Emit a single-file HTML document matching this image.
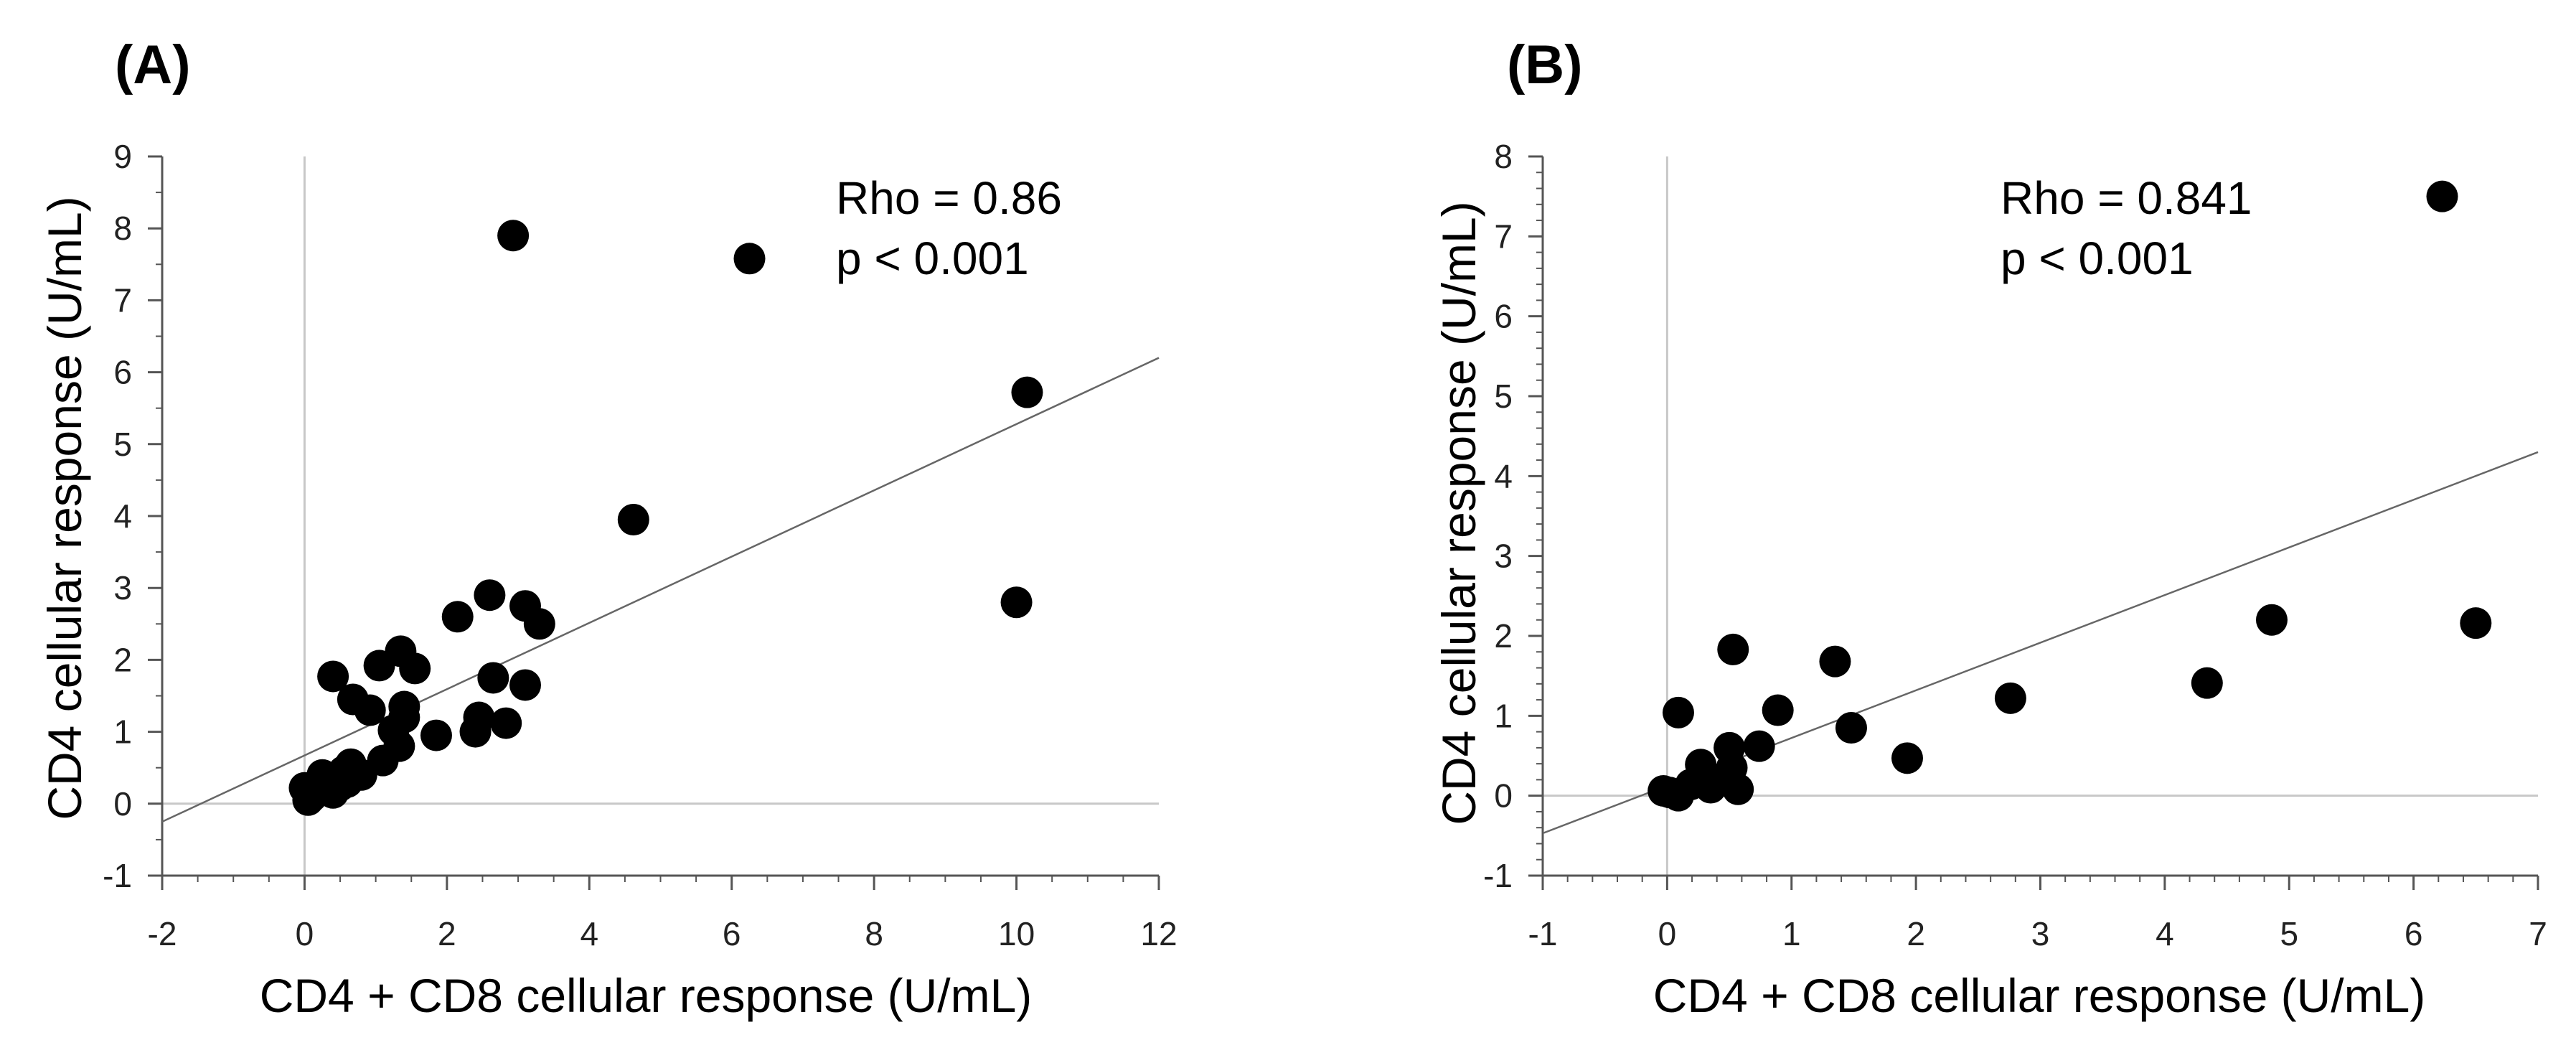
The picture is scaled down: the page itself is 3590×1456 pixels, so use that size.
<!DOCTYPE html>
<html><head><meta charset="utf-8"><style>
html,body{margin:0;padding:0;background:#fff;}
svg text{font-family:"Liberation Sans",Arial,sans-serif;}
</style></head><body>
<svg id="fig" width="3590" height="1451" viewBox="0 0 3590 1451" xmlns="http://www.w3.org/2000/svg">
<rect width="3590" height="1451" fill="#fff"/>
<g id="pA"></g>
<g id="pB"></g>
</svg>
<script>
// Panel A data
const aX = [2.93,6.25,10.15,4.62,10.0,2.6,2.15,3.1,3.3,1.35,1.55,1.05,0.4,2.65,3.1,0.68,0.92,1.4,1.4,1.25,1.85,2.4,2.45,2.83,1.33,1.1,0.65,0.55,0.8,0.35,0.25,0.6,0.15,0,0.05,0.1,0.4,0.3,0.5];
const aY = [7.9,7.58,5.72,3.95,2.8,2.9,2.6,2.75,2.5,2.12,1.88,1.92,1.77,1.75,1.65,1.45,1.3,1.35,1.2,1.02,0.95,1.0,1.2,1.12,0.8,0.6,0.55,0.45,0.4,0.35,0.4,0.3,0.25,0.22,0.05,0.1,0.15,0.2,0.25];
const aXTicks = [-2,0,2,4,6,8,10,12];
const aYTicks = [-1,0,1,2,3,4,5,6,7,8,9];
const aFit = [[-2,-0.25],[12,6.2]];
// Panel B data
const bX = [6.23,6.5,4.86,4.34,2.76,1.93,1.48,1.35,0.89,0.53,0.74,0.09,0.5,0.52,0.57,0.27,0.35,0.19,0.02,0.09,-0.03,0.25,0.45];
const bY = [7.5,2.16,2.2,1.41,1.22,0.47,0.85,1.68,1.07,1.83,0.62,1.04,0.6,0.35,0.08,0.39,0.1,0.14,0.04,0.0,0.06,0.18,0.22];
const bXTicks = [-1,0,1,2,3,4,5,6,7];
const bYTicks = [-1,0,1,2,3,4,5,6,7,8];
const bFit = [[-1,-0.47],[7,4.3]];

const NS='http://www.w3.org/2000/svg';
function mk(parent,tag,attrs,text){const e=document.createElementNS(NS,tag);for(const k in attrs)e.setAttribute(k,attrs[k]);if(text!==undefined)e.textContent=text;parent.appendChild(e);return e;}

function panel(g,cfg,xs,ys,xt,yt,fit){
  const sx=v=>cfg.x0+(v-cfg.xmin)/(cfg.xmax-cfg.xmin)*(cfg.x1-cfg.x0);
  const sy=v=>cfg.y0-(v-cfg.ymin)/(cfg.ymax-cfg.ymin)*(cfg.y0-cfg.y1);
  const gz1=mk(g,'line',{x1:sx(0),y1:cfg.y1,x2:sx(0),y2:cfg.y0,stroke:'#c8c8c8','stroke-width':3});
  
  
  const gz2=mk(g,'line',{x1:cfg.x0,y1:sy(0),x2:cfg.x1,y2:sy(0),stroke:'#c8c8c8','stroke-width':3});
  
  
  const ya=mk(g,'line',{x1:cfg.x0,y1:cfg.y1,x2:cfg.x0,y2:cfg.y0,stroke:'#555','stroke-width':3});
  
  
  const xa=mk(g,'line',{x1:cfg.x0,y1:cfg.y0,x2:cfg.x1,y2:cfg.y0,stroke:'#555','stroke-width':3});
  
  
  for(let v=cfg.xmin;v<=cfg.xmax+1e-9;v+=cfg.xminor){mk(g,'line',{x1:sx(v),y1:cfg.y0,x2:sx(v),y2:cfg.y0+9,stroke:'#555','stroke-width':2});}
  for(let v=cfg.ymin;v<=cfg.ymax+1e-9;v+=cfg.yminor){mk(g,'line',{x1:cfg.x0-9,y1:sy(v),x2:cfg.x0,y2:sy(v),stroke:'#555','stroke-width':2});}
  xt.forEach(v=>{
    mk(g,'line',{x1:sx(v),y1:cfg.y0,x2:sx(v),y2:cfg.y0+20,stroke:'#555','stroke-width':3});
    const t=mk(g,'text',{x:sx(v),y:cfg.y0+97,'font-size':46,'text-anchor':'middle',fill:'#222'},String(v));
    
    
  });
  yt.forEach(v=>{
    mk(g,'line',{x1:cfg.x0-20,y1:sy(v),x2:cfg.x0,y2:sy(v),stroke:'#555','stroke-width':3});
    const t=mk(g,'text',{x:cfg.x0-42,y:sy(v)+16,'font-size':46,'text-anchor':'end',fill:'#222'},String(v));
    
    
  });
  const fl=mk(g,'line',{x1:sx(fit[0][0]),y1:sy(fit[0][1]),x2:sx(fit[1][0]),y2:sy(fit[1][1]),stroke:'#666','stroke-width':2.5});
  
  
  xs.forEach((v,i)=>{
    const c=mk(g,'circle',{cx:sx(v),cy:sy(ys[i]),r:22,fill:'#000'});
    
    
  });
  const lab=mk(g,'text',{x:cfg.labX,y:116,'font-size':76,'font-weight':'bold',fill:'#000'},cfg.label);
  
  
  const r1=mk(g,'text',{x:cfg.rhoX,y:298,'font-size':64,fill:'#000'},cfg.rho);
  
  
  const r2=mk(g,'text',{x:cfg.rhoX,y:382,'font-size':64,fill:'#000'},'p < 0.001');
  
  
  const xtl=mk(g,'text',{x:cfg.xtX,y:1410,'font-size':66,'text-anchor':'middle',fill:'#000'},'CD4 + CD8 cellular response (U/mL)');
  
  
  const ytl=mk(g,'text',{x:0,y:0,'font-size':66,'text-anchor':'middle',fill:'#000',transform:`translate(${cfg.ytX},${cfg.ytY}) rotate(-90)`},'CD4 cellular response (U/mL)');
  
  
}
panel(document.getElementById('pA'),{x0:226,x1:1615,y0:1220,y1:218,xmin:-2,xmax:12,ymin:-1,ymax:9,xminor:0.5,yminor:0.5,label:'(A)',labX:160,rho:'Rho = 0.86',rhoX:1165,xtX:900,ytX:113,ytY:708},aX,aY,aXTicks,aYTicks,aFit);
panel(document.getElementById('pB'),{x0:2150,x1:3537,y0:1220,y1:218,xmin:-1,xmax:7,ymin:-1,ymax:8,xminor:0.2,yminor:0.2,label:'(B)',labX:2100,rho:'Rho = 0.841',rhoX:2788,xtX:2842,ytX:2056,ytY:715},bX,bY,bXTicks,bYTicks,bFit);
</script>
</body></html>
